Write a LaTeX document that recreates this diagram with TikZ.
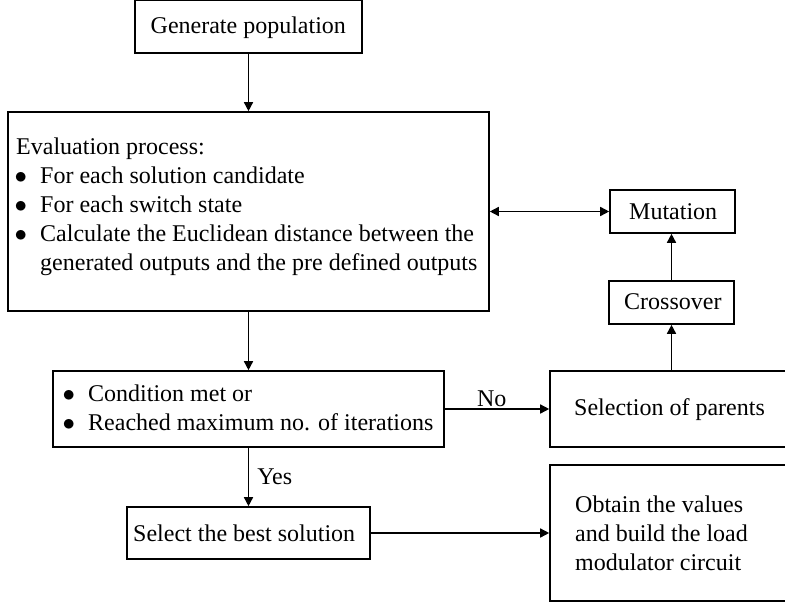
\documentclass[tikz,border=0pt]{standalone}
\usepackage{fontspec}
\setmainfont{Liberation Serif}
\usetikzlibrary{arrows.meta}
\tikzset{
  box/.style={draw, line width=1.6pt, inner sep=0pt},
  txt/.style={anchor=base west, inner sep=0pt, font=\fontsize{24}{29}\selectfont},
  arr/.style={line width=1.5pt, -{Triangle[length=9pt,width=9pt]}},
  darr/.style={line width=1.5pt, {Triangle[length=9pt,width=9pt]}-{Triangle[length=9pt,width=9pt]}}
}
\newcommand{\bul}{\makebox[24pt][l]{\hspace{-1.5pt}$\bullet$}}
\begin{document}
\begin{tikzpicture}[x=1pt,y=-1pt]
\clip (0,0) rectangle (785,607);
% boxes
\node[box, minimum width=227pt, minimum height=53pt] (gen) at (248.5,26.5) {};
\node[box, minimum width=481pt, minimum height=199pt] (eval) at (248.5,211.5) {};
\node[box, minimum width=125pt, minimum height=43pt] (mut) at (672.5,211.5) {};
\node[box, minimum width=125pt, minimum height=43pt] (cross) at (671.5,302.5) {};
\node[box, minimum width=391pt, minimum height=76pt] (cond) at (248.5,409) {};
\node[box, minimum width=250pt, minimum height=76pt] (sel) at (675,409) {};
\node[box, minimum width=243pt, minimum height=52pt] (best) at (248.5,533) {};
\node[box, minimum width=250pt, minimum height=136pt] (obt) at (675,533) {};
% texts
\node[txt] (gent) at (150.5,33.5) {Generate population};
\node[txt] (evalt) at (16,155) {\begin{tabular}[t]{@{}l@{}l@{}}
\multicolumn{2}{@{}l@{}}{Evaluation process:}\\
\bul & For each solution candidate\\
\bul & For each switch state\\
\bul & Calculate the Euclidean distance between the\\
 & generated outputs and the pre defined outputs
\end{tabular}};
\node[txt] (mutt) at (629,219) {Mutation};
\node[txt] (crosst) at (624,309.5) {Crossover};
\node[txt] (condt) at (64,401) {\begin{tabular}[t]{@{}l@{}l@{}}
\bul & Condition met or\\
\bul & Reached maximum no. of iterations
\end{tabular}};
\node[txt] (selt) at (574,415.5) {Selection of parents};
\node[txt] (bestt) at (133,541) {Select the best solution};
\node[txt] (obtt) at (575,512) {\begin{tabular}[t]{@{}l@{}}
Obtain the values\\
and build the load\\
modulator circuit
\end{tabular}};
% connectors
\draw[arr] (gen.south) -- (eval.north);
\draw[arr] (eval.south) -- (cond.north);
\draw[darr] (eval.east) -- (mut.west);
\draw[arr] (cross.north) -- (cross.north |- mut.south);
\draw[arr] (cross.south |- sel.north) -- (cross.south);
\draw[arr] (cond.east) -- node[above, inner sep=2pt, pos=0.45, font=\fontsize{24}{29}\selectfont] (no) {No} (sel.west);
\draw[arr] (cond.south) -- node[right, inner sep=8pt, font=\fontsize{24}{29}\selectfont] (yes) {Yes} (best.north);
\draw[arr] (best.east) -- (obt.west);
\end{tikzpicture}
\end{document}
